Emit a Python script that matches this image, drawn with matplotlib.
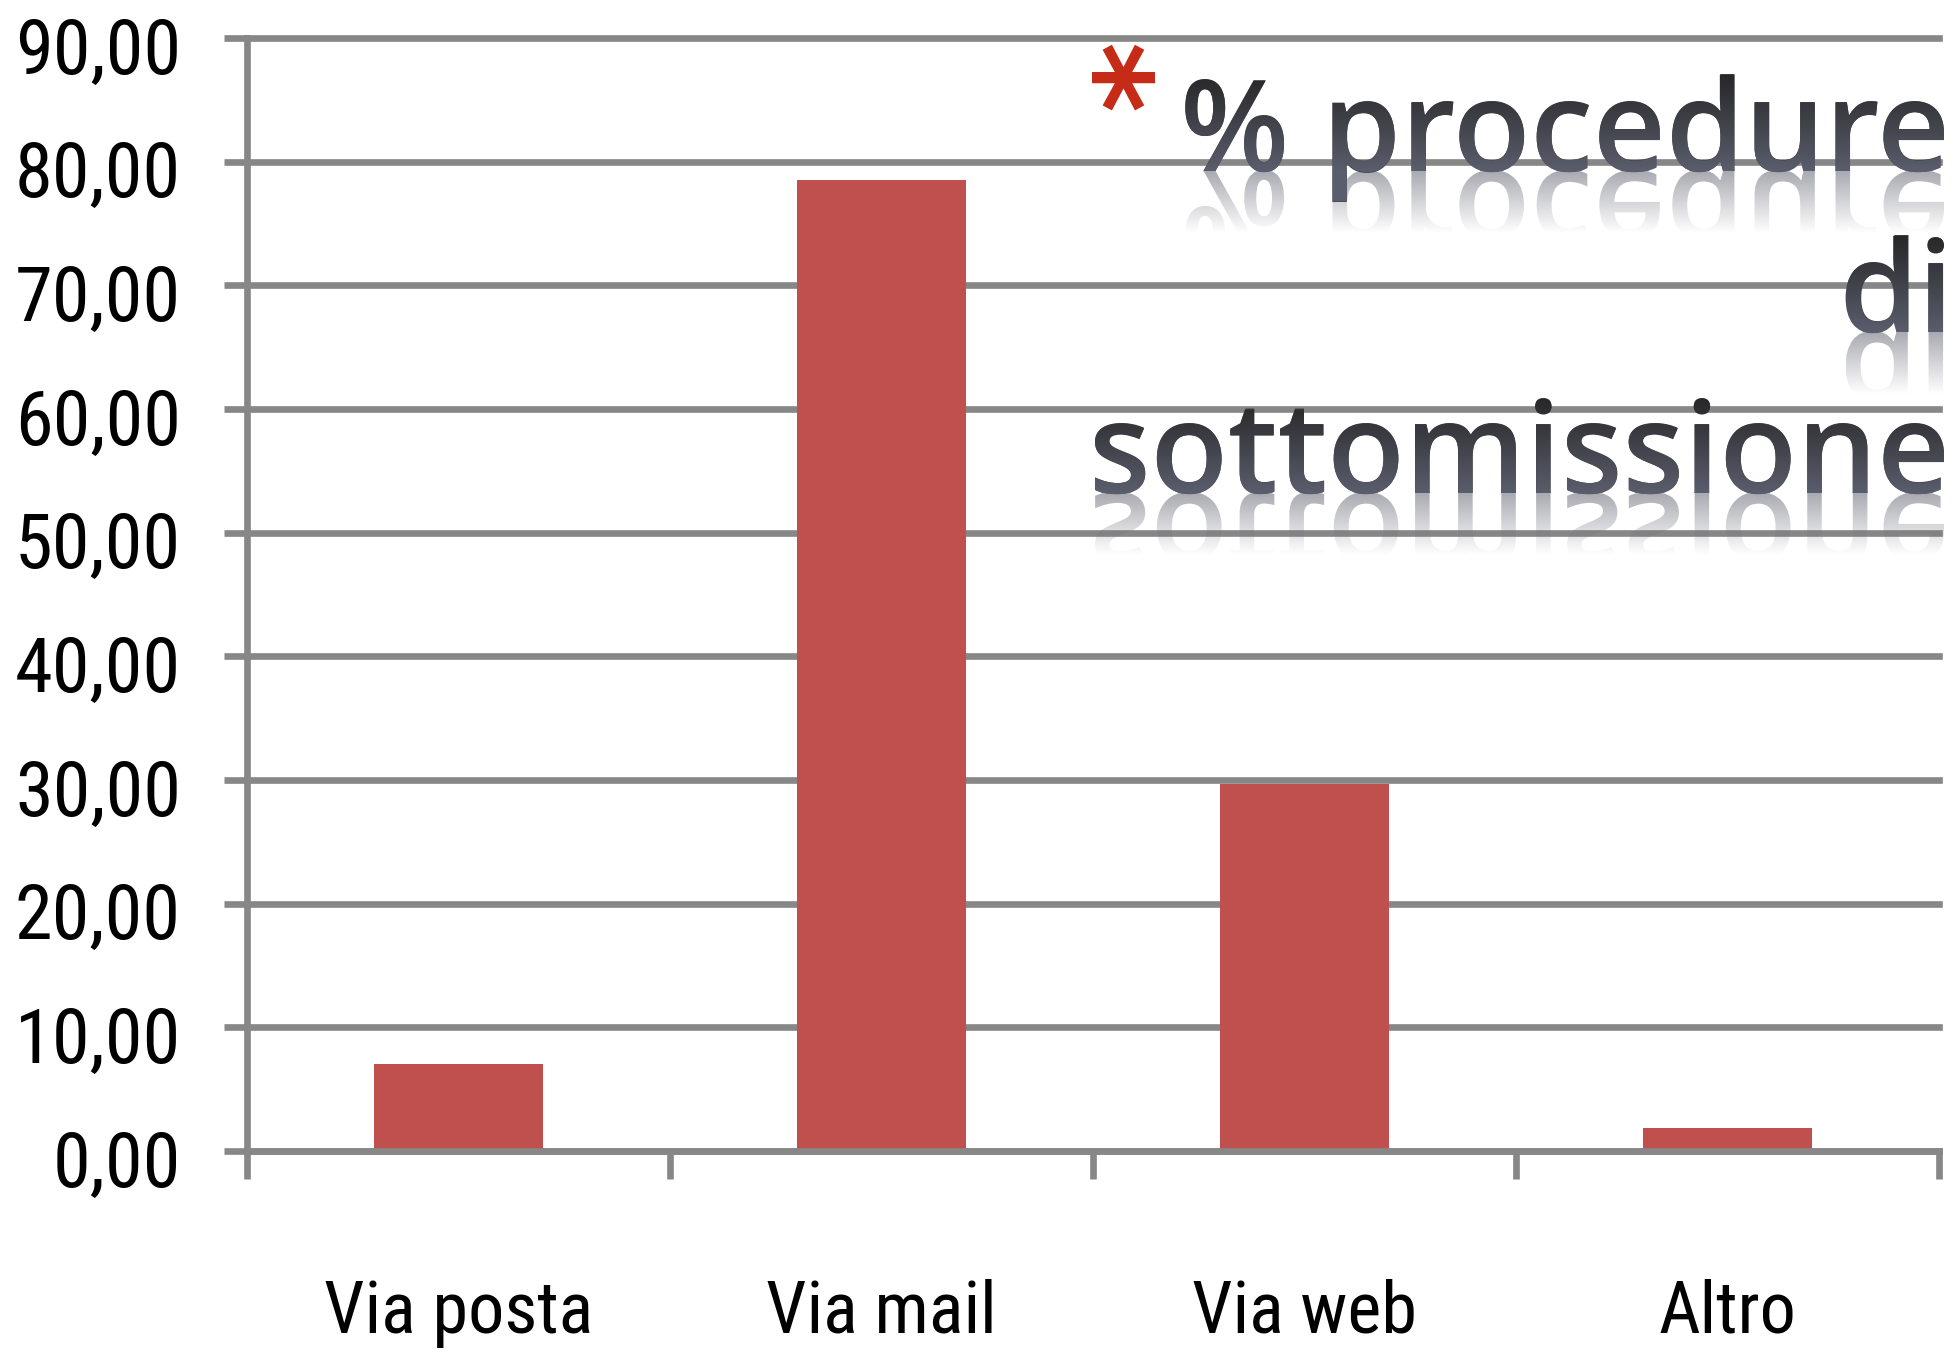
import os
import numpy as np
import matplotlib
matplotlib.use("Agg")
import matplotlib.pyplot as plt
from matplotlib import font_manager
from matplotlib.textpath import TextPath
from matplotlib.font_manager import FontProperties
from matplotlib.patches import PathPatch
from matplotlib.transforms import Affine2D, ScaledTranslation
from matplotlib.colors import to_rgb

# ---------------- data ----------------
categories = ["Via posta", "Via mail", "Via web", "Altro"]
values = [7.0, 78.5, 29.7, 1.9]
yticks = [0, 10, 20, 30, 40, 50, 60, 70, 80, 90]
ytick_labels = ["0,00", "10,00", "20,00", "30,00", "40,00",
                "50,00", "60,00", "70,00", "80,00", "90,00"]
title_star = "*"
title_lines = ["% procedure", "di", "sottomissione"]

# ---------------- fonts ----------------
files = [f.fname for f in font_manager.fontManager.ttflist]
bases = {os.path.basename(p): p for p in files}
prefs = ["LiberationSansNarrow-Regular.ttf", "RobotoCondensed-Regular.ttf",
         "NotoSans-Condensed.ttf", "DejaVuSansCondensed.ttf"]
label_fp = None
for pname in prefs:
    if pname in bases:
        label_fp = FontProperties(fname=bases[pname])
        break
if label_fp is None:
    label_fp = FontProperties(family="DejaVu Sans")

W, H = 1955, 1358
DPI = 100
fig = plt.figure(figsize=(W / DPI, H / DPI), dpi=DPI)
fig.patch.set_facecolor("white")

left_px, right_px, top_px, bottom_px = 247, 1939, 38, 1151
ax = fig.add_axes([left_px / W, 1 - bottom_px / H,
                   (right_px - left_px) / W, (bottom_px - top_px) / H])

GRID = "#878787"
LW = 4.8

x = np.arange(len(categories))
ax.bar(x, values, width=0.4, color="#C0504D", zorder=2)
ax.set_xlim(-0.5, len(categories) - 0.5)
ax.set_ylim(0, 90)

ax.set_yticks(yticks)
ax.set_yticklabels(ytick_labels)
ax.set_xticks(x)
ax.set_xticklabels(categories)
ax.set_xticks(np.arange(len(categories) + 1) - 0.5, minor=True)

ax.set_axisbelow(True)
ax.yaxis.grid(True, color=GRID, linewidth=LW)
for gl in ax.get_ygridlines():
    gl.set_clip_on(False)

for s in ["top", "right"]:
    ax.spines[s].set_visible(False)
for s in ["left", "bottom"]:
    ax.spines[s].set_color(GRID)
    ax.spines[s].set_linewidth(LW)
    ax.spines[s].set_zorder(3)

ax.tick_params(axis="y", which="major", length=16.6, width=LW, color=GRID,
               direction="out", pad=31, labelcolor="black")
ax.tick_params(axis="x", which="major", length=0, pad=92, labelcolor="black")
ax.tick_params(axis="x", which="minor", length=20, width=LW, color=GRID,
               direction="out")

offset = ScaledTranslation(0, -7 / DPI, fig.dpi_scale_trans)
for t in ax.yaxis.get_major_ticks():
    t.label1.set_fontproperties(label_fp)
    t.label1.set_fontsize(55)
    t.label1.set_transform(t.label1.get_transform() + offset)
for t in ax.xaxis.get_major_ticks():
    t.label1.set_fontproperties(label_fp)
    t.label1.set_fontsize(52)

# ---------------- title overlay ----------------
ax2 = fig.add_axes([0, 0, 1, 1], zorder=5)
ax2.patch.set_alpha(0)
ax2.axis("off")

fp = FontProperties(family="Open Sans", weight="semibold")

right_edge = 1944
ref_w = TextPath((0, 0), title_lines[2], size=100, prop=fp).get_extents().width
EM = 100 * (right_edge - 1095) / ref_w          # em size in pixels

top_c = np.array(to_rgb("#262626"))
bot_c = np.array(to_rgb("#5a5d6c"))
mid_c = (top_c + bot_c) / 2
refl_c = np.array(to_rgb("#70727e"))

baselines = [171, 332, 493]

for s, b in zip(title_lines, baselines):
    base_y = H - b
    ext = TextPath((0, 0), s, size=EM, prop=fp).get_extents()
    x0 = right_edge - ext.x1
    ax2.text(x0, base_y, s, fontproperties=fp, fontsize=EM * 72 / DPI,
             color=mid_c, ha="left", va="baseline", zorder=6)
    path = TextPath((x0, base_y), s, size=EM, prop=fp)
    patch = PathPatch(path, facecolor="none", edgecolor="none", transform=ax2.transData)
    ax2.add_patch(patch)
    e = path.get_extents()
    n = 256
    tt = np.linspace(0, 1, n)[:, None, None]
    grad = top_c[None, None, :] * (1 - tt) + bot_c[None, None, :] * tt
    im = ax2.imshow(grad, extent=[e.x0 - 2, e.x1 + 2, base_y, e.y1 + 2], origin="upper",
                    aspect="auto", interpolation="bilinear", zorder=7)
    im.set_clip_path(patch)
    if e.y0 < base_y:
        im2 = ax2.imshow(np.tile(bot_c, (2, 1, 1)), extent=[e.x0 - 2, e.x1 + 2, e.y0 - 2, base_y],
                         origin="upper", aspect="auto", zorder=7)
        im2.set_clip_path(patch)
    rpath = Affine2D().scale(1, -1).translate(0, 2 * base_y).transform_path(path)
    rpatch = PathPatch(rpath, facecolor="none", edgecolor="none", transform=ax2.transData)
    ax2.add_patch(rpatch)
    rgba = np.zeros((n, 1, 4))
    rgba[:, :, :3] = refl_c
    rgba[:, 0, 3] = np.linspace(0.6, 0.0, n)
    rim = ax2.imshow(rgba, extent=[e.x0, e.x1, base_y - 62, base_y], origin="upper",
                     aspect="auto", interpolation="bilinear", zorder=5.5)
    rim.set_clip_path(rpatch)

# red asterisk (real text), turned a quarter so its arms lie as in the reference
star_fp = FontProperties(family="DejaVu Sans", weight="bold")
sext = TextPath((0, 0), title_star, size=100, prop=star_fp).get_extents()
bx0, by0 = 1088, H - 112
sc = 0.5 * (62 / sext.width + 67 / sext.height)
ox = bx0 - sext.y0 * sc
oy = by0 + sext.x1 * sc
ax2.text(ox, oy, title_star, fontproperties=star_fp, fontsize=100 * sc * 72 / DPI,
         color="#c62a16", ha="left", va="baseline", rotation=-90,
         rotation_mode="anchor", zorder=7)

ax2.set_xlim(0, W)
ax2.set_ylim(0, H)

fig.savefig("out.png", dpi=DPI, facecolor="white")
